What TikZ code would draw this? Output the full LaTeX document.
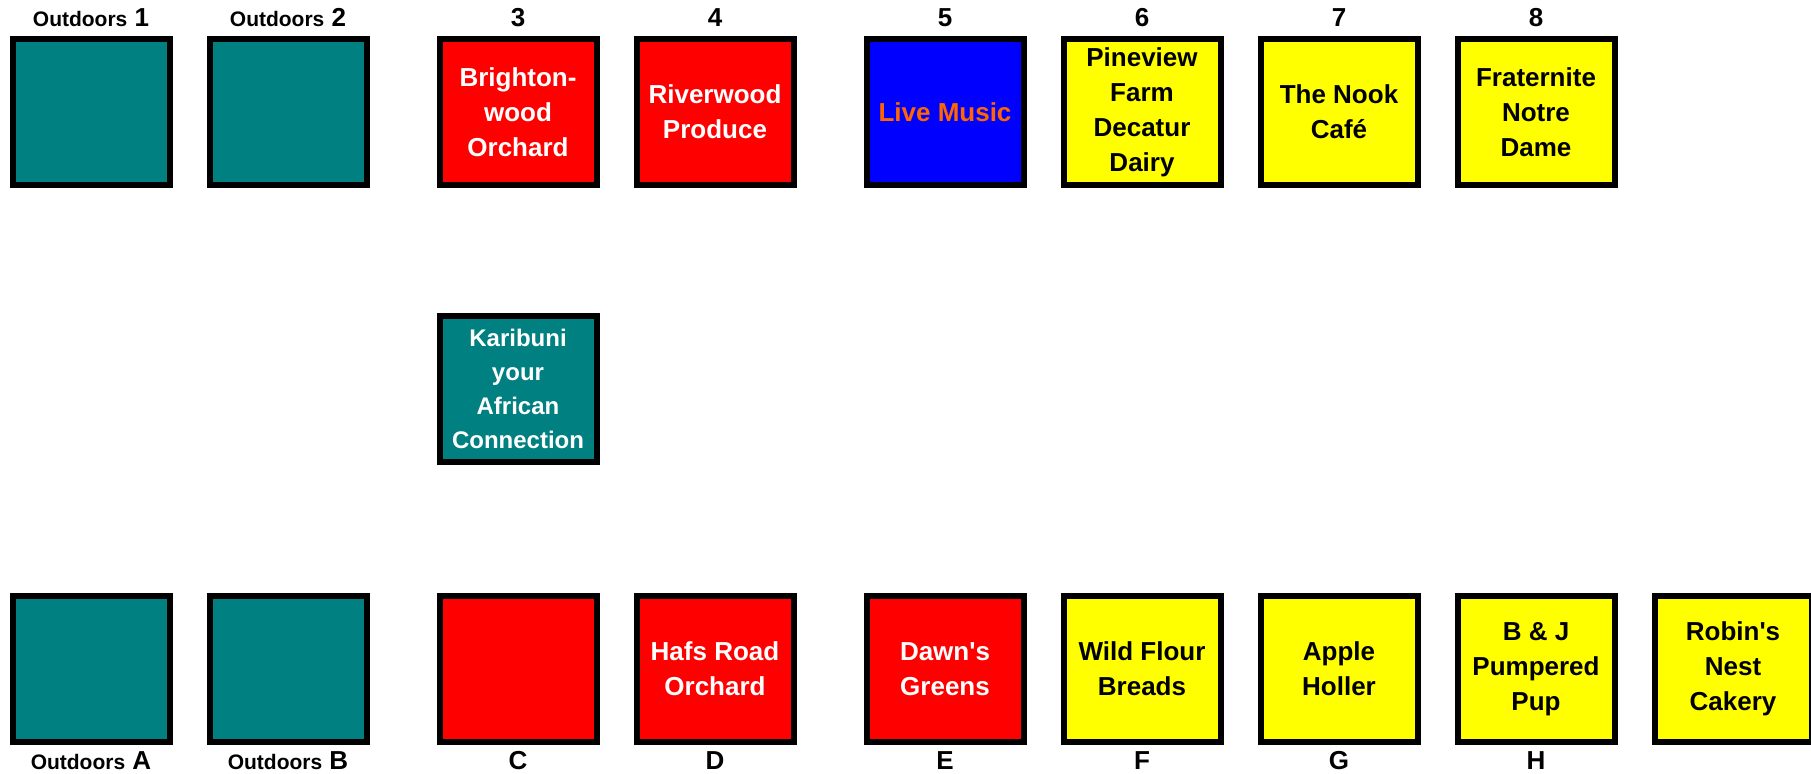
\documentclass[tikz,border=0pt]{standalone}
\usepackage{fontspec}
\setmainfont{Liberation Sans}
\usepackage{tikz}
\usetikzlibrary{positioning}
\definecolor{stallteal}{HTML}{008080}
\definecolor{stallred}{HTML}{FF0000}
\definecolor{stallblue}{HTML}{0000FF}
\definecolor{stallyellow}{HTML}{FFFF00}
\definecolor{musicorange}{HTML}{FF6600}
\tikzset{
        stall/.style = {draw, rectangle, line width=3pt,
            minimum width=78.5pt,
            minimum height=73pt,
            inner sep=0pt, align=center,
            font=\bfseries\fontsize{13}{17.5}\selectfont},
        outdoor/.style = {stall, fill=stallteal, text=white},
        farm/.style = {stall, fill=stallred, text=white},
        music/.style = {stall, fill=stallblue, text=musicorange},
        bakery/.style = {stall, fill=stallyellow, text=black},
        num/.style = {inner sep=0pt, font=\bfseries\fontsize{13}{15}\selectfont},
    }
\newcommand{\outd}{{\fontsize{10.5}{12}\selectfont Outdoors} }

\begin{document}
\begin{tikzpicture}
    \useasboundingbox (0,0) rectangle (905.5pt,-386.5pt);

    % top row
    \node[outdoor] (t1) at (45.5pt,-56pt) {};
    \node[outdoor, right=17pt of t1] (t2) {};
    \node[farm, right=33.5pt of t2] (t3) {Brighton-\\wood\\Orchard};
    \node[farm, right=17pt of t3] (t4) {Riverwood\\Produce};
    \node[music, right=33.5pt of t4] (t5) {Live Music};
    \node[bakery, right=17pt of t5] (t6) {Pineview\\Farm\\Decatur\\Dairy};
    \node[bakery, right=17pt of t6] (t7) {The Nook\\Café};
    \node[bakery, right=17pt of t7] (t8) {Fraternite\\Notre\\Dame};

    % middle
    \node[outdoor, below=62.5pt of t3,
          font=\bfseries\fontsize{12}{17}\selectfont] (k) {Karibuni\\your\\African\\Connection};

    % bottom row
    \node[outdoor, below=202.5pt of t1] (bA) {};
    \node[outdoor, right=17pt of bA] (bB) {};
    \node[farm, right=33.5pt of bB] (bC) {};
    \node[farm, right=17pt of bC] (bD) {Hafs Road\\Orchard};
    \node[farm, right=33.5pt of bD] (bE) {Dawn\textquotesingle s\\Greens};
    \node[bakery, right=17pt of bE] (bF) {Wild Flour\\Breads};
    \node[bakery, right=17pt of bF] (bG) {Apple\\Holler};
    \node[bakery, right=17pt of bG] (bH) {B \& J\\Pumpered\\Pup};
    \node[bakery, right=17pt of bH] (bI) {Robin\textquotesingle s\\Nest\\Cakery};

    % numbers
    \node[num, above=4.4pt of t1] (n1) {\outd 1};
    \node[num, above=4.4pt of t2] (n2) {\outd 2};
    \node[num, above=4.4pt of t3] (n3) {3};
    \node[num, above=4.4pt of t4] (n4) {4};
    \node[num, above=4.4pt of t5] (n5) {5};
    \node[num, above=4.4pt of t6] (n6) {6};
    \node[num, above=4.4pt of t7] (n7) {7};
    \node[num, above=4.4pt of t8] (n8) {8};

    \node[num, below=2.9pt of bA] (lA) {\outd A};
    \node[num, below=2.9pt of bB] (lB) {\outd B};
    \node[num, below=2.9pt of bC] (lC) {C};
    \node[num, below=2.9pt of bD] (lD) {D};
    \node[num, below=2.9pt of bE] (lE) {E};
    \node[num, below=2.9pt of bF] (lF) {F};
    \node[num, below=2.9pt of bG] (lG) {G};
    \node[num, below=2.9pt of bH] (lH) {H};
\end{tikzpicture}
\end{document}
